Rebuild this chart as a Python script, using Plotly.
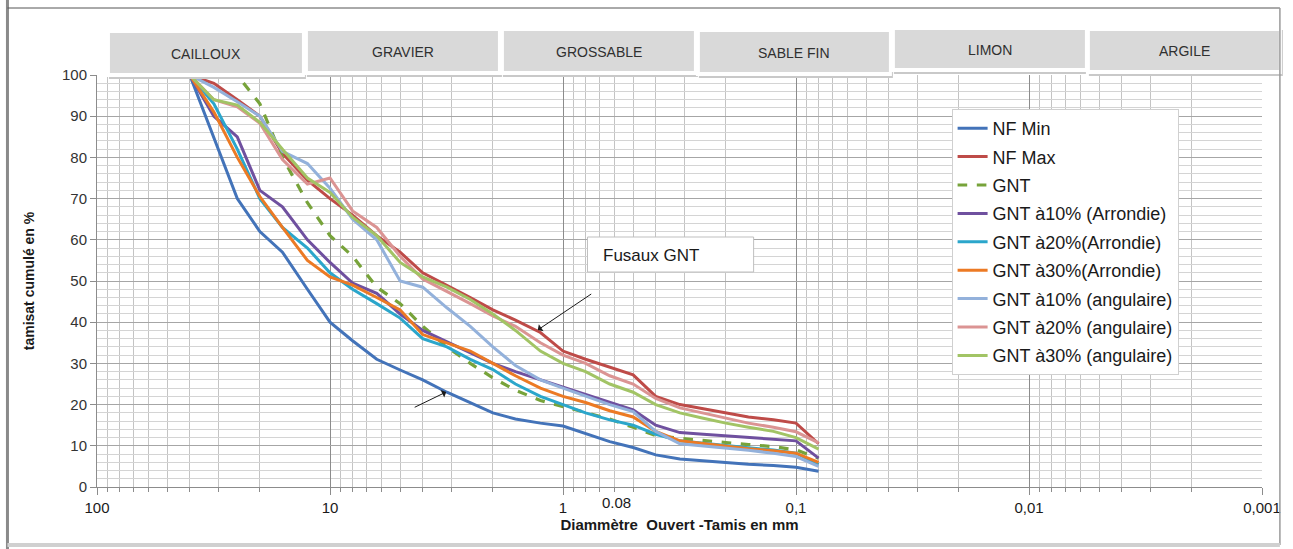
import math
import plotly.graph_objects as go

# ---------------- data ----------------
sizes = [40, 31.5, 25, 20, 16, 12.5, 10, 8, 6.3, 5, 4, 3.15, 2.5, 2, 1.6, 1.25,
         1, 0.8, 0.63, 0.5, 0.4, 0.315, 0.25, 0.2, 0.16, 0.125, 0.1, 0.08]

nf_min = [100, 85, 70, 62, 57, 48, 40, 35.5, 31, 28.4, 26, 23, 20.5, 18, 16.5, 15.5,
          14.8, 13, 11, 9.6, 7.8, 6.8, 6.3, 5.8, 5.5, 5.2, 4.8, 3.8]
nf_max = [100, 98, 94, 90, 81, 74.5, 70, 66, 61, 57, 52, 49, 46, 43, 40.5, 37.5,
          33, 31, 29, 27.2, 22, 20, 19, 18, 17, 16.3, 15.5, 10.5]
gnt = [100, 100, 100, 93, 80, 69, 61, 56, 48.5, 44.5, 39, 34, 30, 26.5, 23.5, 21,
       19.5, 18, 16.5, 14.5, 12.5, 11.8, 11.2, 10.8, 10.3, 9.8, 9, 7]
gnt10_arr = [100, 90, 85, 72, 68, 60, 54.5, 49.5, 47, 42, 38, 35.3, 32.5, 30, 28, 26,
             24.3, 22.5, 20.5, 18.7, 15, 13.2, 12.8, 12.4, 12, 11.6, 11.2, 7]
gnt20_arr = [100, 93, 82, 70, 63, 58, 52, 48, 44.5, 41, 36, 34, 31, 28.5, 25, 22,
             20, 18, 16.3, 15, 12.8, 11.2, 10.6, 10, 9.5, 9, 8.2, 5.5]
gnt30_arr = [100, 91, 80, 70.5, 63, 55, 51, 49, 46, 43, 37, 35, 33, 30, 27, 24,
             22, 20.5, 18.5, 17, 13.5, 11.2, 10.5, 9.8, 9.3, 8.8, 8.2, 6]
gnt10_ang = [100, 97, 93.5, 90, 81.5, 78.5, 72.5, 65, 60, 50, 48.5, 43.5, 39, 34, 29.5, 26,
             24, 22, 20, 18.3, 13.5, 10.5, 10, 9.5, 8.9, 8.2, 7.4, 5]
gnt20_ang = [100, 94, 92.3, 88.3, 79.5, 73.5, 75, 67, 63, 56, 50.5, 47.5, 44.5, 41.5, 39, 35,
             32, 30, 27, 25, 21.5, 19.2, 18, 16.7, 15.5, 14.5, 13.4, 10.7]
gnt30_ang = [100, 94, 92.7, 88.5, 82, 75, 71.5, 65.5, 61, 54.5, 51, 48.5, 45.5, 42, 38, 33,
             30, 28, 25, 23, 20, 18, 16.7, 15.5, 14.5, 13.5, 12, 9.2]

series_names = ["NF Min", "NF Max", "GNT", "GNT à10% (Arrondie)", "GNT à20%(Arrondie)",
                "GNT à30%(Arrondie)", "GNT à10% (angulaire)", "GNT à20% (angulaire)",
                "GNT à30% (angulaire)"]
series_values = [nf_min, nf_max, gnt, gnt10_arr, gnt20_arr, gnt30_arr,
                 gnt10_ang, gnt20_ang, gnt30_ang]

x_tick_vals = [100, 10, 1, 0.1, 0.01, 0.001]
x_tick_text = ["100", "10", "1", "0,1", "0,01", "0,001"]
zones = ["CAILLOUX", "GRAVIER", "GROSSABLE", "SABLE FIN", "LIMON", "ARGILE"]

# ---------------- styles ----------------
colors = ["#4373B9", "#BE4B48", "#77A33A", "#6F509F", "#2BA6CB",
          "#EC7A24", "#93B1DB", "#DB9493", "#A2C465"]
dashes = ["solid", "solid", "dash", "solid", "solid", "solid", "solid", "solid", "solid"]
NARROW = "Liberation Sans Narrow, Liberation Sans, Arial"

W, H = 1293, 549
L, R, T, B = 97, 1268, 75, 487


def pxx(p):
    return (p - L) / (R - L)


def pxy(p):
    return (B - p) / (B - T)


fig = go.Figure()
for name, vals, c, d in zip(series_names, series_values, colors, dashes):
    fig.add_trace(go.Scatter(
        x=sizes, y=vals, mode="lines", name=name, legendgroup=name,
        line=dict(color=c, width=3.2 if d == "dash" else 3, dash=d),
    ))

minor_x = [k * 10 ** e for e in range(-3, 2) for k in range(2, 10)]

shapes = []
annotations = []

# special vertical line (labelled 0.08)
shapes.append(dict(type="line", xref="x", yref="paper", x0=math.log10(0.6), x1=math.log10(0.6),
                   y0=0, y1=1, line=dict(color="#7f7f7f", width=1.2), layer="below"))
annotations.append(dict(xref="paper", yref="paper", x=pxx(619), y=pxy(502), text="0.08",
                        xanchor="center", yanchor="middle",
                        showarrow=False, font=dict(size=15, color="#1a1a1a", family=NARROW)))

# zone header boxes
boxes = [(110, 33, 303, 73), (309, 31, 500, 71), (506, 31, 697, 71),
         (703, 32, 893, 72), (899, 30, 1090, 68), (1095, 31, 1285, 70)]
for (x0, y0, x1, y1), lab in zip(boxes, zones):
    shapes.append(dict(type="rect", xref="paper", yref="paper",
                       x0=pxx(x0 - 1), x1=pxx(x1 + 4), y0=pxy(y1 + 6), y1=pxy(y0 - 1),
                       fillcolor="#c9c9c9", line=dict(width=0), layer="above"))
    shapes.append(dict(type="rect", xref="paper", yref="paper",
                       x0=pxx(x0 - 4), x1=pxx(x1 + 3), y0=pxy(y1 + 4), y1=pxy(y0 - 4),
                       fillcolor="#ffffff", line=dict(width=0), layer="above"))
    shapes.append(dict(type="rect", xref="paper", yref="paper",
                       x0=pxx(x0), x1=pxx(x1), y0=pxy(y1), y1=pxy(y0),
                       fillcolor="#d9d9d9", line=dict(width=0), layer="above"))
    annotations.append(dict(xref="paper", yref="paper", x=pxx((x0 + x1) / 2), y=pxy((y0 + y1) / 2 + 1),
                            xanchor="center", yanchor="middle",
                            text=lab, showarrow=False,
                            font=dict(size=14, color="#303030", family=NARROW)))

# "Fusaux GNT" label box
shapes.append(dict(type="rect", xref="paper", yref="paper",
                   x0=pxx(590), x1=pxx(757), y0=pxy(272), y1=pxy(237),
                   fillcolor="#ffffff", line=dict(color="#bfbfbf", width=1), layer="above"))
annotations.append(dict(xref="paper", yref="paper", x=pxx(604), y=pxy(255),
                        xanchor="left", yanchor="middle",
                        text="Fusaux GNT", showarrow=False,
                        font=dict(size=17, color="#1a1a1a", family="Liberation Sans, Arial")))
# arrows
annotations.append(dict(xref="paper", yref="paper", x=pxx(540), y=pxy(330), ax=55, ay=-37,
                        text="", showarrow=True, arrowhead=1, arrowsize=1.4, arrowwidth=1,
                        arrowcolor="#1a1a1a"))
annotations.append(dict(xref="paper", yref="paper", x=pxx(448), y=pxy(392), ax=-33, ay=16,
                        text="", showarrow=True, arrowhead=1, arrowsize=1.4, arrowwidth=1,
                        arrowcolor="#1a1a1a"))

# outer frame
shapes.append(dict(type="line", xref="paper", yref="paper", x0=pxx(7), x1=pxx(7),
                   y0=pxy(0), y1=pxy(549), line=dict(color="#8a8a8a", width=3), layer="above"))
shapes.append(dict(type="line", xref="paper", yref="paper", x0=pxx(7), x1=pxx(1286),
                   y0=pxy(8), y1=pxy(8), line=dict(color="#555555", width=1), layer="above"))
shapes.append(dict(type="line", xref="paper", yref="paper", x0=pxx(1286), x1=pxx(1286),
                   y0=pxy(8), y1=pxy(545), line=dict(color="#9a9a9a", width=1.5), layer="above"))
shapes.append(dict(type="line", xref="paper", yref="paper", x0=pxx(7), x1=pxx(1286),
                   y0=pxy(545), y1=pxy(545), line=dict(color="#d0d0d0", width=4), layer="above"))

fig.update_layout(
    width=W, height=H,
    margin=dict(l=L, r=W - R, t=T, b=H - B, pad=0),
    paper_bgcolor="white", plot_bgcolor="white",
    font=dict(family="Liberation Sans, Arial", color="#1a1a1a"),
    showlegend=True,
    legend=dict(x=pxx(956), y=pxy(109), xanchor="left", yanchor="top",
                bgcolor="white", bordercolor="#d0d0d0", borderwidth=1,
                font=dict(size=18, color="#1a1a1a", family="Liberation Sans, Arial"),
                tracegroupgap=2, itemwidth=30),
    xaxis=dict(
        type="log", range=[2, -3],
        tickmode="array", tickvals=x_tick_vals, ticktext=x_tick_text,
        showgrid=True, gridcolor="#8c8c8c", gridwidth=1,
        minor=dict(tickmode="array", tickvals=minor_x, showgrid=True, gridcolor="#c4c4c4",
                   ticks="outside", ticklen=4, tickcolor="#8c8c8c"),
        ticks="outside", ticklen=7, tickcolor="#8c8c8c",
        showline=True, linecolor="#8c8c8c", linewidth=1, mirror=False, zeroline=False,
        tickfont=dict(size=15, color="#1a1a1a", family=NARROW),
        title=dict(text="<b>Diammètre  Ouvert -Tamis en mm</b>", standoff=4,
                   font=dict(size=15, color="#1a1a1a", family=NARROW)),
    ),
    yaxis=dict(
        range=[0, 100], tickmode="linear", tick0=0, dtick=10,
        showgrid=True, gridcolor="#a6a6a6", gridwidth=1,
        minor=dict(dtick=2, showgrid=True, gridcolor="#d4d4d4"),
        ticks="outside", ticklen=6, tickcolor="#8c8c8c",
        showline=True, linecolor="#8c8c8c", zeroline=False,
        tickfont=dict(size=15, color="#333333"),
        title=dict(text="<b>tamisat cumulé en %</b>", standoff=24,
                   font=dict(size=14, color="#1a1a1a")),
    ),
    shapes=shapes,
    annotations=annotations,
)

fig.write_html("out.html")
